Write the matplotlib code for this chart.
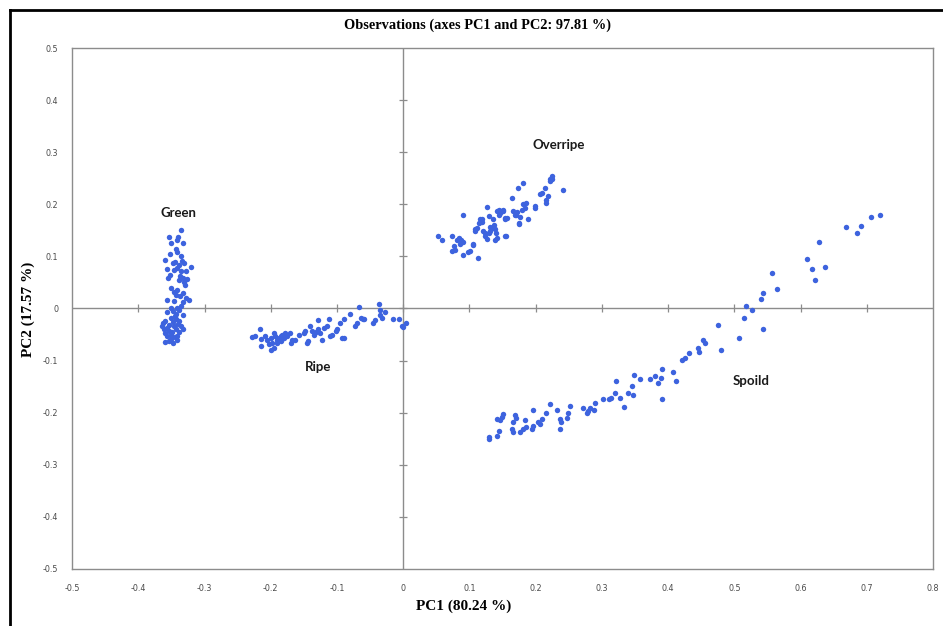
import matplotlib
matplotlib.use("Agg")
import matplotlib.pyplot as plt
from matplotlib.lines import Line2D

# PCA scores (PC1, PC2) per maturity group
green_pc1 = [-0.336, -0.354, -0.342, -0.351, -0.333, -0.343, -0.342, -0.336, -0.359, -0.347,
             -0.345, -0.338, -0.331, -0.321, -0.356, -0.346, -0.341, -0.336, -0.328, -0.352,
             -0.337, -0.333, -0.326, -0.338, -0.331, -0.341, -0.346, -0.333, -0.343, -0.337,
             -0.328, -0.323, -0.356, -0.346, -0.333, -0.351, -0.341, -0.338, -0.356, -0.343,
             -0.333, -0.351, -0.343, -0.338, -0.359, -0.348, -0.364, -0.354, -0.346, -0.336,
             -0.361, -0.354, -0.343, -0.359, -0.351, -0.341, -0.359, -0.347, -0.351, -0.342,
             -0.357, -0.349, -0.338, -0.345, -0.353, -0.340, -0.362, -0.344, -0.335, -0.350,
             -0.329, -0.355, -0.334, -0.352, -0.340, -0.357, -0.347, -0.332]
green_pc2 = [0.150, 0.137, 0.132, 0.126, 0.126, 0.115, 0.108, 0.100, 0.093, 0.088,
             0.089, 0.084, 0.088, 0.080, 0.075, 0.074, 0.078, 0.072, 0.072, 0.065,
             0.063, 0.059, 0.056, 0.054, 0.051, 0.035, 0.031, 0.030, 0.025, 0.024,
             0.020, 0.017, 0.016, 0.014, 0.013, 0.001, 0.000, -0.003, -0.007, -0.010,
             -0.012, -0.018, -0.021, -0.024, -0.024, -0.026, -0.034, -0.031, -0.034, -0.033,
             -0.040, -0.044, -0.040, -0.048, -0.050, -0.053, -0.065, -0.067, -0.058, -0.060,
             -0.038, -0.045, -0.046, -0.055, -0.062, -0.030, -0.028, -0.015, 0.005, 0.040,
             0.045, 0.058, 0.092, 0.105, 0.138, -0.052, -0.004, -0.040]

ripe_pc1 = [-0.216, -0.228, -0.223, -0.215, -0.208, -0.205, -0.200, -0.195, -0.193, -0.190,
            -0.188, -0.185, -0.183, -0.180, -0.178, -0.175, -0.171, -0.168, -0.203, -0.198,
            -0.195, -0.200, -0.215, -0.190, -0.185, -0.170, -0.163, -0.158, -0.150, -0.148,
            -0.145, -0.143, -0.140, -0.138, -0.135, -0.131, -0.129, -0.128, -0.125, -0.122,
            -0.120, -0.115, -0.112, -0.110, -0.107, -0.102, -0.100, -0.095, -0.092, -0.090,
            -0.090, -0.081, -0.072, -0.070, -0.066, -0.064, -0.061, -0.059, -0.046, -0.042,
            -0.037, -0.035, -0.032, -0.027, -0.035, -0.015, -0.007, 0.000, 0.005, -0.002]
ripe_pc2 = [-0.039, -0.055, -0.053, -0.058, -0.053, -0.060, -0.056, -0.047, -0.053, -0.060,
            -0.056, -0.052, -0.050, -0.056, -0.047, -0.053, -0.047, -0.060, -0.069, -0.066,
            -0.075, -0.079, -0.072, -0.066, -0.063, -0.066, -0.060, -0.050, -0.047, -0.044,
            -0.066, -0.063, -0.034, -0.044, -0.050, -0.045, -0.022, -0.040, -0.047, -0.060,
            -0.037, -0.034, -0.021, -0.053, -0.050, -0.044, -0.040, -0.028, -0.056, -0.056,
            -0.021, -0.010, -0.033, -0.028, 0.003, -0.018, -0.021, -0.020, -0.028, -0.023,
            0.008, -0.012, -0.018, -0.007, -0.002, -0.021, -0.020, -0.036, -0.028, -0.033]

overripe_pc1 = [0.053, 0.058, 0.073, 0.081, 0.085, 0.088, 0.091, 0.086, 0.076, 0.073,
                0.078, 0.090, 0.090, 0.098, 0.105, 0.113, 0.108, 0.111, 0.116, 0.119,
                0.121, 0.124, 0.126, 0.129, 0.131, 0.134, 0.136, 0.137, 0.139, 0.140,
                0.141, 0.129, 0.126, 0.141, 0.144, 0.146, 0.150, 0.154, 0.155, 0.157,
                0.166, 0.169, 0.172, 0.175, 0.176, 0.181, 0.184, 0.185, 0.189, 0.164,
                0.173, 0.181, 0.199, 0.206, 0.209, 0.214, 0.215, 0.216, 0.219, 0.221,
                0.224, 0.225, 0.222, 0.241, 0.108, 0.115, 0.119, 0.124, 0.131, 0.139,
                0.144, 0.151, 0.154, 0.154, 0.171, 0.175, 0.179, 0.199, 0.106, 0.101]
overripe_pc2 = [0.140, 0.131, 0.139, 0.132, 0.136, 0.131, 0.127, 0.123, 0.120, 0.110,
                0.113, 0.179, 0.102, 0.108, 0.122, 0.097, 0.152, 0.155, 0.171, 0.166,
                0.148, 0.139, 0.134, 0.144, 0.157, 0.155, 0.171, 0.161, 0.152, 0.145,
                0.136, 0.177, 0.195, 0.187, 0.190, 0.184, 0.190, 0.171, 0.139, 0.174,
                0.187, 0.180, 0.185, 0.164, 0.176, 0.200, 0.193, 0.203, 0.171, 0.212,
                0.232, 0.240, 0.193, 0.219, 0.222, 0.232, 0.203, 0.209, 0.216, 0.244,
                0.248, 0.254, 0.249, 0.227, 0.148, 0.164, 0.171, 0.145, 0.148, 0.132,
                0.180, 0.187, 0.174, 0.140, 0.180, 0.163, 0.190, 0.196, 0.123, 0.110]

spoild_pc1 = [0.475, 0.480, 0.452, 0.455, 0.445, 0.446, 0.432, 0.426, 0.421, 0.407,
              0.412, 0.391, 0.390, 0.385, 0.391, 0.380, 0.372, 0.357, 0.348, 0.346,
              0.347, 0.339, 0.334, 0.328, 0.322, 0.320, 0.314, 0.311, 0.302, 0.289,
              0.288, 0.282, 0.277, 0.272, 0.279, 0.252, 0.249, 0.247, 0.237, 0.238,
              0.237, 0.233, 0.221, 0.216, 0.209, 0.204, 0.206, 0.196, 0.196, 0.194,
              0.184, 0.185, 0.181, 0.176, 0.171, 0.166, 0.166, 0.164, 0.169, 0.151,
              0.149, 0.146, 0.141, 0.144, 0.141, 0.130, 0.130, 0.720, 0.706, 0.691,
              0.685, 0.668, 0.628, 0.609, 0.618, 0.637, 0.622, 0.557, 0.564, 0.543,
              0.540, 0.518, 0.527, 0.515, 0.543, 0.507]
spoild_pc2 = [-0.031, -0.080, -0.060, -0.067, -0.075, -0.084, -0.086, -0.095, -0.098, -0.122,
              -0.140, -0.116, -0.134, -0.143, -0.173, -0.129, -0.135, -0.136, -0.128, -0.148,
              -0.167, -0.162, -0.189, -0.171, -0.139, -0.162, -0.171, -0.173, -0.173, -0.181,
              -0.195, -0.191, -0.200, -0.191, -0.196, -0.187, -0.200, -0.210, -0.213, -0.218,
              -0.231, -0.194, -0.183, -0.200, -0.213, -0.218, -0.221, -0.194, -0.226, -0.232,
              -0.214, -0.228, -0.232, -0.237, -0.210, -0.218, -0.237, -0.232, -0.205, -0.202,
              -0.208, -0.214, -0.213, -0.235, -0.244, -0.246, -0.251, 0.179, 0.176, 0.158,
              0.145, 0.156, 0.128, 0.095, 0.075, 0.080, 0.054, 0.069, 0.038, 0.030,
              0.019, 0.004, -0.003, -0.018, -0.039, -0.056]

group_names = ["Green", "Ripe", "Overripe", "Spoild"]
label_pc1 = [-0.339, -0.128, 0.235, 0.526]
label_pc2 = [0.184, -0.113, 0.313, -0.140]

x_ticks = [-0.5, -0.4, -0.3, -0.2, -0.1, 0, 0.1, 0.2, 0.3, 0.4, 0.5, 0.6, 0.7, 0.8]
x_tick_labels = ["-0.5", "-0.4", "-0.3", "-0.2", "-0.1", "0", "0.1", "0.2", "0.3", "0.4",
                 "0.5", "0.6", "0.7", "0.8"]
y_ticks = [-0.5, -0.4, -0.3, -0.2, -0.1, 0, 0.1, 0.2, 0.3, 0.4, 0.5]
y_tick_labels = ["-0.5", "-0.4", "-0.3", "-0.2", "-0.1", "0", "0.1", "0.2", "0.3", "0.4", "0.5"]

POINT_COLOR = "#3d63de"
AXIS_GREY = "#8c8c8c"

fig = plt.figure(figsize=(9.43, 6.26), dpi=100)
fig.patch.set_facecolor("white")
ax = fig.add_axes([0.0764, 0.0911, 0.9130, 0.8322])

# zero axes with cross ticks
ax.axhline(0, color=AXIS_GREY, lw=1.0, zorder=1)
ax.axvline(0, color=AXIS_GREY, lw=1.0, zorder=1)
ax.plot(x_ticks[1:-1], [0] * len(x_ticks[1:-1]), ls="none", marker="|", ms=6,
        mew=0.9, color=AXIS_GREY, zorder=1)
ax.plot([0] * len(y_ticks[1:-1]), y_ticks[1:-1], ls="none", marker="_", ms=6,
        mew=0.9, color=AXIS_GREY, zorder=1)

for xs, ys in [(green_pc1, green_pc2), (ripe_pc1, ripe_pc2),
               (overripe_pc1, overripe_pc2), (spoild_pc1, spoild_pc2)]:
    ax.plot(xs, ys, ls="none", marker="o", ms=3.9, mew=0, color=POINT_COLOR, zorder=3)

for name, lx, ly in zip(group_names, label_pc1, label_pc2):
    ax.text(lx, ly, name, ha="center", va="center", fontsize=9.5, fontweight="bold",
            family=["Lato", "DejaVu Sans"], color="#1a1a1a", zorder=4)

ax.set_xlim(-0.5, 0.8)
ax.set_ylim(-0.5, 0.5)
ax.set_xticks(x_ticks)
ax.set_xticklabels(x_tick_labels)
ax.set_yticks(y_ticks)
ax.set_yticklabels(y_tick_labels)
ax.tick_params(length=0, labelsize=5.8, labelcolor="#4a4a4a")
ax.tick_params(axis="x", pad=11)
ax.tick_params(axis="y", pad=10)
for s in ax.spines.values():
    s.set_color(AXIS_GREY)
    s.set_linewidth(1.0)

serif = ["Liberation Serif", "DejaVu Serif"]
fig.text(0.506, 0.960, "Observations (axes PC1 and PC2: 97.81 %)", ha="center",
         va="center", fontsize=10.4, fontweight="bold", family=serif)
fig.text(0.492, 0.032, "PC1 (80.24 %)", ha="center", va="center", fontsize=11,
         fontweight="bold", family=serif)
fig.text(0.030, 0.505, "PC2 (17.57 %)", ha="center", va="center", rotation=90,
         fontsize=11, fontweight="bold", family=serif)

# outer frame on the top and left edges
fig.add_artist(Line2D([10 / 943, 1.0], [1 - 10 / 626, 1 - 10 / 626],
                      transform=fig.transFigure, color="black", lw=2))
fig.add_artist(Line2D([10 / 943, 10 / 943], [0.0, 1 - 10 / 626],
                      transform=fig.transFigure, color="black", lw=2))

fig.savefig("out.png", dpi=100)
